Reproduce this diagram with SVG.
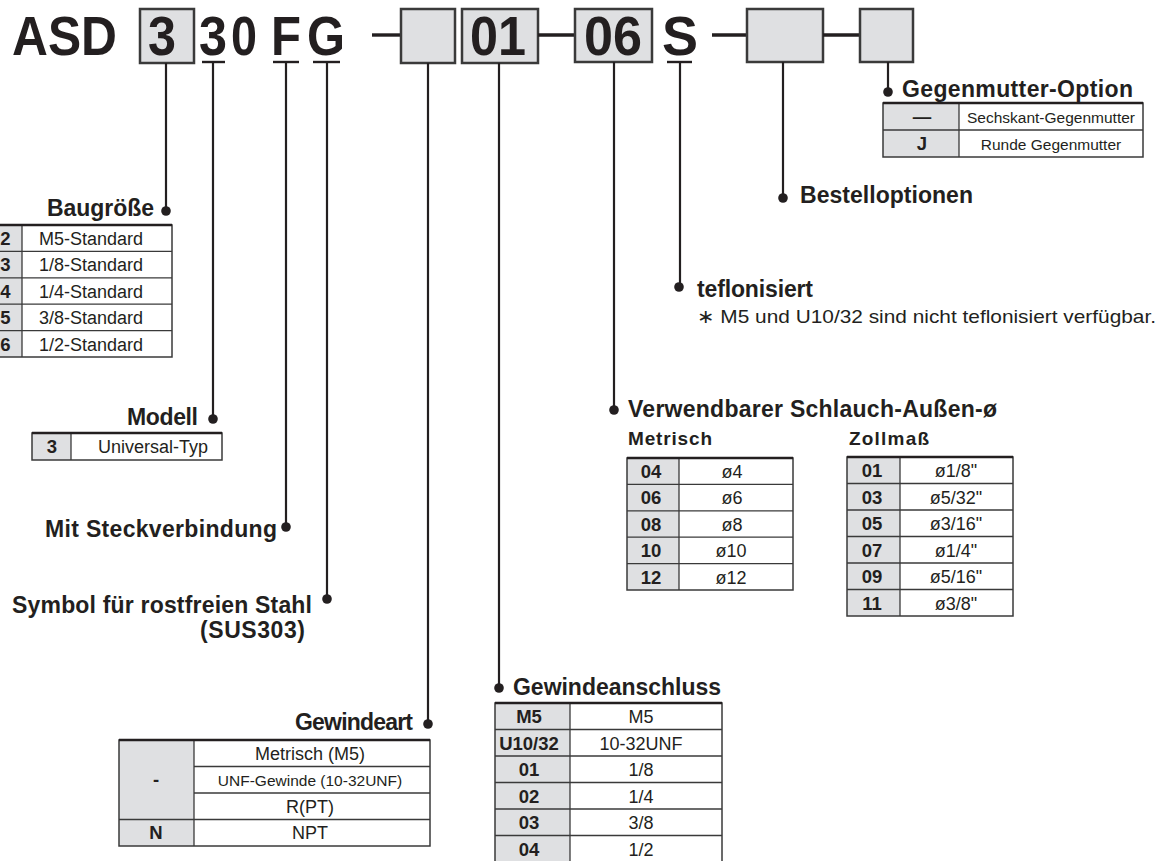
<svg xmlns="http://www.w3.org/2000/svg" width="1158" height="861" viewBox="0 0 1158 861">
<style>
text{font-family:"Liberation Sans",Arial,Helvetica,sans-serif;fill:#231f20}
.big{font-weight:bold;font-size:55px;text-anchor:middle}
.h{font-weight:bold;font-size:23px}
.e{text-anchor:end}
.sh{font-weight:bold;font-size:19px}
.t{font-size:18px;text-anchor:middle}
.ts{font-size:15.5px;text-anchor:middle}
.c{font-weight:bold;font-size:18.5px;text-anchor:middle}
.box{fill:#dfe0e2;stroke:#3a3a3a;stroke-width:2.5}
.ln{stroke:#231f20;stroke-width:2.2;fill:none}
.ul{stroke:#231f20;stroke-width:2.4}
.dash{stroke:#231f20;stroke-width:3.4}
.frame{fill:none;stroke:#3a3a3a;stroke-width:1.5}
.top{stroke:#231f20;stroke-width:2.4}
.row{stroke:#3a3a3a;stroke-width:1.3}
.gray{fill:#dfe0e2}
.white{fill:#fff}
.dot{fill:#231f20}
</style>

<g id="code">
  <text class="big" x="12" y="55" style="text-anchor:start" textLength="105" lengthAdjust="spacingAndGlyphs">ASD</text>
  <rect class="box" x="140" y="9" width="54" height="54"/>
  <text class="big" x="162" y="55" textLength="28" lengthAdjust="spacingAndGlyphs">3</text>
  <text class="big" x="213" y="55" textLength="28" lengthAdjust="spacingAndGlyphs">3</text>
  <text class="big" x="244" y="55" textLength="26" lengthAdjust="spacingAndGlyphs">0</text>
  <text class="big" x="286" y="55" textLength="30" lengthAdjust="spacingAndGlyphs">F</text>
  <text class="big" x="326" y="55" textLength="38" lengthAdjust="spacingAndGlyphs">G</text>
  <line class="ul" x1="202" y1="62" x2="225" y2="62"/>
  <line class="ul" x1="273" y1="62" x2="299" y2="62"/>
  <line class="ul" x1="313" y1="62" x2="340" y2="62"/>
  <line class="dash" x1="372" y1="35" x2="401" y2="35"/>
  <rect class="box" x="401" y="9" width="54" height="54"/>
  <rect class="box" x="462" y="9" width="76" height="54"/>
  <text class="big" x="498" y="55" textLength="56" lengthAdjust="spacingAndGlyphs">01</text>
  <line class="dash" x1="538" y1="35" x2="575" y2="35"/>
  <rect class="box" x="575" y="9" width="77" height="53"/>
  <text class="big" x="613" y="55" textLength="58" lengthAdjust="spacingAndGlyphs">06</text>
  <text class="big" x="680" y="55" textLength="36" lengthAdjust="spacingAndGlyphs">S</text>
  <line class="ul" x1="667" y1="62" x2="692" y2="62"/>
  <line class="dash" x1="712" y1="35" x2="747" y2="35"/>
  <rect class="box" x="747" y="9" width="76" height="53"/>
  <line class="dash" x1="823" y1="35" x2="860" y2="35"/>
  <rect class="box" x="860" y="9" width="53" height="53"/>
</g>

<g id="connectors">
  <line class="ln" x1="166" y1="63" x2="166" y2="211"/>
  <circle class="dot" cx="166" cy="211" r="4.8"/>
  <line class="ln" x1="213" y1="62" x2="213" y2="419"/>
  <circle class="dot" cx="213" cy="419" r="4.8"/>
  <line class="ln" x1="286" y1="62" x2="286" y2="527"/>
  <circle class="dot" cx="286" cy="527" r="4.8"/>
  <line class="ln" x1="327" y1="62" x2="327" y2="599"/>
  <circle class="dot" cx="327" cy="599" r="4.8"/>
  <line class="ln" x1="428" y1="63" x2="428" y2="724"/>
  <circle class="dot" cx="428" cy="724" r="4.8"/>
  <line class="ln" x1="499" y1="63" x2="499" y2="688"/>
  <circle class="dot" cx="499" cy="688" r="4.8"/>
  <line class="ln" x1="614" y1="62" x2="614" y2="410"/>
  <circle class="dot" cx="614" cy="410" r="4.8"/>
  <line class="ln" x1="680" y1="62" x2="680" y2="287"/>
  <circle class="dot" cx="679" cy="287" r="4.8"/>
  <line class="ln" x1="783" y1="62" x2="783" y2="198"/>
  <circle class="dot" cx="783" cy="198" r="4.8"/>
  <line class="ln" x1="888" y1="62" x2="888" y2="92"/>
  <circle class="dot" cx="888" cy="92" r="4.8"/>
</g>

<g id="baugroesse">
  <text class="h e" x="154" y="216" textLength="107">Baugröße</text>
  <rect class="white" x="-20" y="225" width="192" height="132"/>
  <rect class="gray" x="-20" y="225" width="42" height="132"/>
  <line class="row" x1="-20" y1="251.4" x2="172" y2="251.4"/>
  <line class="row" x1="-20" y1="277.8" x2="172" y2="277.8"/>
  <line class="row" x1="-20" y1="304.2" x2="172" y2="304.2"/>
  <line class="row" x1="-20" y1="330.6" x2="172" y2="330.6"/>
  <line class="row" x1="22" y1="225" x2="22" y2="357"/>
  <rect class="frame" x="-20" y="225" width="192" height="132"/>
  <line class="top" x1="-20" y1="225" x2="172" y2="225"/>
  <text class="c" x="5.5" y="245">2</text><text class="t" x="91" y="245">M5-Standard</text>
  <text class="c" x="5.5" y="271.4">3</text><text class="t" x="91" y="271.4">1/8-Standard</text>
  <text class="c" x="5.5" y="297.8">4</text><text class="t" x="91" y="297.8">1/4-Standard</text>
  <text class="c" x="5.5" y="324.2">5</text><text class="t" x="91" y="324.2">3/8-Standard</text>
  <text class="c" x="5.5" y="350.6">6</text><text class="t" x="91" y="350.6">1/2-Standard</text>
</g>

<g id="modell">
  <text class="h e" x="198" y="425" textLength="71">Modell</text>
  <rect class="white" x="32" y="433" width="190" height="27"/>
  <rect class="gray" x="32" y="433" width="39" height="27"/>
  <line class="row" x1="71" y1="433" x2="71" y2="460"/>
  <rect class="frame" x="32" y="433" width="190" height="27"/>
  <line class="top" x1="32" y1="433" x2="222" y2="433"/>
  <text class="c" x="52" y="453">3</text>
  <text class="t" x="153" y="453">Universal-Typ</text>
</g>

<g id="steckverbindung">
  <text class="h e" x="277" y="537" textLength="232">Mit Steckverbindung</text>
</g>

<g id="sus">
  <text class="h e" x="312" y="613" textLength="300">Symbol für rostfreien Stahl</text>
  <text class="h e" x="305" y="638" textLength="105">(SUS303)</text>
</g>

<g id="gewindeart">
  <text class="h e" x="413" y="730" textLength="118">Gewindeart</text>
  <rect class="white" x="119" y="740" width="311" height="106"/>
  <rect class="gray" x="119" y="740" width="75" height="106"/>
  <line class="row" x1="194" y1="766.5" x2="430" y2="766.5"/>
  <line class="row" x1="194" y1="793" x2="430" y2="793"/>
  <line class="row" x1="119" y1="819.5" x2="430" y2="819.5"/>
  <line class="row" x1="194" y1="740" x2="194" y2="846"/>
  <rect class="frame" x="119" y="740" width="311" height="106"/>
  <line class="top" x1="119" y1="740" x2="430" y2="740"/>
  <text class="c" x="156" y="786">-</text>
  <text class="c" x="156" y="839">N</text>
  <text class="t" x="310" y="760">Metrisch (M5)</text>
  <text class="ts" x="310" y="785.5">UNF-Gewinde (10-32UNF)</text>
  <text class="t" x="310" y="813">R(PT)</text>
  <text class="t" x="310" y="839">NPT</text>
</g>

<g id="gewindeanschluss">
  <text class="h" x="513" y="695" textLength="208">Gewindeanschluss</text>
  <rect class="white" x="495" y="703" width="227" height="160"/>
  <rect class="gray" x="495" y="703" width="75" height="160"/>
  <line class="row" x1="495" y1="729.5" x2="722" y2="729.5"/>
  <line class="row" x1="495" y1="756" x2="722" y2="756"/>
  <line class="row" x1="495" y1="782.5" x2="722" y2="782.5"/>
  <line class="row" x1="495" y1="809" x2="722" y2="809"/>
  <line class="row" x1="495" y1="835.5" x2="722" y2="835.5"/>
  <line class="row" x1="570" y1="703" x2="570" y2="863"/>
  <rect class="frame" x="495" y="703" width="227" height="160"/>
  <line class="top" x1="495" y1="703" x2="722" y2="703"/>
  <text class="c" x="529" y="723">M5</text><text class="t" x="641" y="723">M5</text>
  <text class="c" x="529" y="749.5">U10/32</text><text class="t" x="641" y="749.5">10-32UNF</text>
  <text class="c" x="529" y="776">01</text><text class="t" x="641" y="776">1/8</text>
  <text class="c" x="529" y="802.5">02</text><text class="t" x="641" y="802.5">1/4</text>
  <text class="c" x="529" y="829">03</text><text class="t" x="641" y="829">3/8</text>
  <text class="c" x="529" y="855.5">04</text><text class="t" x="641" y="855.5">1/2</text>
</g>

<g id="schlauch">
  <text class="h" x="628" y="417" textLength="369">Verwendbarer Schlauch-Außen-ø</text>
  <text class="sh" x="628" y="445" textLength="84">Metrisch</text>
  <text class="sh" x="849" y="445" textLength="80">Zollmaß</text>
  <rect class="white" x="627" y="458" width="166" height="132"/>
  <rect class="gray" x="627" y="458" width="52" height="132"/>
  <line class="row" x1="627" y1="484.4" x2="793" y2="484.4"/>
  <line class="row" x1="627" y1="510.8" x2="793" y2="510.8"/>
  <line class="row" x1="627" y1="537.2" x2="793" y2="537.2"/>
  <line class="row" x1="627" y1="563.6" x2="793" y2="563.6"/>
  <line class="row" x1="679" y1="458" x2="679" y2="590"/>
  <rect class="frame" x="627" y="458" width="166" height="132"/>
  <line class="top" x1="627" y1="458" x2="793" y2="458"/>
  <text class="c" x="651" y="478">04</text><text class="t" x="732" y="478">ø4</text>
  <text class="c" x="651" y="504.4">06</text><text class="t" x="732" y="504.4">ø6</text>
  <text class="c" x="651" y="530.8">08</text><text class="t" x="732" y="530.8">ø8</text>
  <text class="c" x="651" y="557.2">10</text><text class="t" x="731" y="557.2">ø10</text>
  <text class="c" x="651" y="583.6">12</text><text class="t" x="731" y="583.6">ø12</text>

  <rect class="white" x="847" y="457" width="166" height="159"/>
  <rect class="gray" x="847" y="457" width="53" height="159"/>
  <line class="row" x1="847" y1="483.5" x2="1013" y2="483.5"/>
  <line class="row" x1="847" y1="510" x2="1013" y2="510"/>
  <line class="row" x1="847" y1="536.5" x2="1013" y2="536.5"/>
  <line class="row" x1="847" y1="563" x2="1013" y2="563"/>
  <line class="row" x1="847" y1="589.5" x2="1013" y2="589.5"/>
  <line class="row" x1="900" y1="457" x2="900" y2="616"/>
  <rect class="frame" x="847" y="457" width="166" height="159"/>
  <line class="top" x1="847" y1="457" x2="1013" y2="457"/>
  <text class="c" x="872" y="477">01</text><text class="t" x="956" y="477">ø1/8"</text>
  <text class="c" x="872" y="503.5">03</text><text class="t" x="956" y="503.5">ø5/32"</text>
  <text class="c" x="872" y="530">05</text><text class="t" x="956" y="530">ø3/16"</text>
  <text class="c" x="872" y="556.5">07</text><text class="t" x="956" y="556.5">ø1/4"</text>
  <text class="c" x="872" y="583">09</text><text class="t" x="956" y="583">ø5/16"</text>
  <text class="c" x="872" y="609.5">11</text><text class="t" x="956" y="609.5">ø3/8"</text>
</g>

<g id="teflonisiert">
  <text class="h" x="697" y="297" textLength="116">teflonisiert</text>
  <text x="697" y="323" style="font-size:19px" textLength="459" lengthAdjust="spacingAndGlyphs">∗ M5 und U10/32 sind nicht teflonisiert verfügbar.</text>
</g>

<g id="bestelloptionen">
  <text class="h" x="800" y="203" textLength="173">Bestelloptionen</text>
</g>

<g id="gegenmutter">
  <text class="h" x="902" y="97" textLength="231">Gegenmutter-Option</text>
  <rect class="white" x="883" y="103" width="260" height="54"/>
  <rect class="gray" x="883" y="103" width="76" height="54"/>
  <line class="row" x1="883" y1="130" x2="1143" y2="130"/>
  <line class="row" x1="959" y1="103" x2="959" y2="157"/>
  <rect class="frame" x="883" y="103" width="260" height="54"/>
  <line class="top" x1="883" y1="103" x2="1143" y2="103"/>
  <text class="c" x="922" y="123">—</text>
  <text class="ts" x="1051" y="123">Sechskant-Gegenmutter</text>
  <text class="c" x="922" y="150">J</text>
  <text class="ts" x="1051" y="150">Runde Gegenmutter</text>
</g>
</svg>
